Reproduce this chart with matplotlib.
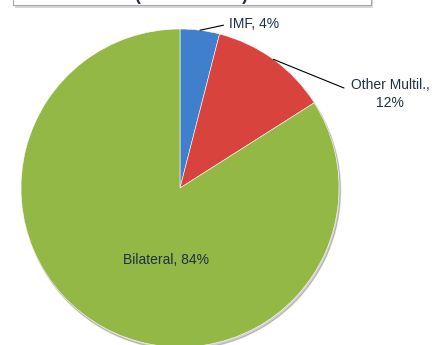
import matplotlib.pyplot as plt
from matplotlib.patches import Rectangle
import numpy as np

plt.rcParams['font.family'] = ['Liberation Sans', 'DejaVu Sans']

# data
labels = ['IMF', 'Other Multil.', 'Bilateral']
shares = [4, 12, 84]
label_text = ['IMF, 4%', 'Other Multil.,\n12%', 'Bilateral, 84%']
colors = ['#3F7FCC', '#D8443D', '#93B846']
title = '(End of 2012)'

W, H = 435, 345
fig = plt.figure(figsize=(W / 100, H / 100), dpi=100)
ax = fig.add_axes([0, 0, 1, 1])

cx, cy, r = 180, H - 188, 159
txt_color = '#1F2F44'

# soft shadow under the pie
ax.add_patch(plt.Circle((cx + 1.5, cy - 2.5), r, color='#000000', alpha=0.18, zorder=0))

wedges, _ = ax.pie(shares, center=(cx, cy), radius=r, startangle=90,
                   counterclock=False, colors=colors, frame=True,
                   wedgeprops=dict(edgecolor='white', linewidth=0.4))
ax.set_xlim(0, W)
ax.set_ylim(0, H)
ax.set_aspect('equal')
ax.axis('off')

# labels
def edge_point(w):
    ang = np.deg2rad((w.theta1 + w.theta2) / 2)
    return cx + r * np.cos(ang), cy + r * np.sin(ang)

ax.annotate(label_text[0], xy=edge_point(wedges[0]), xytext=(229, H - 24),
            ha='left', va='center', fontsize=10, color=txt_color,
            arrowprops=dict(arrowstyle='-', color='black', lw=0.8,
                            shrinkA=2, shrinkB=0, relpos=(0, 0.5)))
ax.annotate(label_text[1], xy=edge_point(wedges[1]), xytext=(390, H - 94),
            ha='center', va='center', fontsize=10, color=txt_color,
            multialignment='center', linespacing=1.45,
            arrowprops=dict(arrowstyle='-', color='black', lw=0.8,
                            shrinkA=3, shrinkB=0, relpos=(0, 0.6)))
ax.text(166, H - 260, label_text[2], ha='center', va='center',
        fontsize=10, color=txt_color)

# title box, cut off by the top of the image
ax.add_patch(Rectangle((15, H - 8), 358, 40, facecolor='#BBBBBB', edgecolor='none', alpha=0.6))
ax.add_patch(Rectangle((13, H - 5), 358, 40, facecolor='white', edgecolor='#A6A6A6', lw=0.8))
ax.text(192, H + 0.5, title, ha='center', va='baseline', fontsize=13,
        fontweight='bold', color=txt_color, clip_on=True)

fig.savefig('out.png', dpi=100)
